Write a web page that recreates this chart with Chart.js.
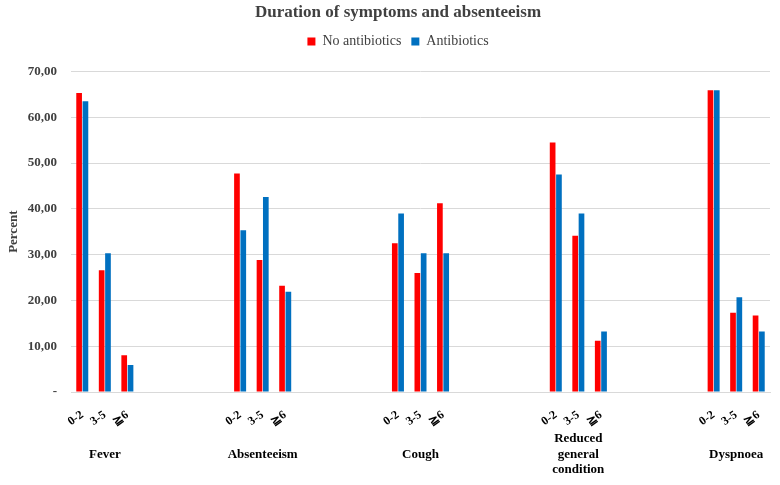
<!DOCTYPE html>
<html>
<head>
<meta charset="utf-8">
<script src="https://cdn.jsdelivr.net/npm/chart.js@4/dist/chart.umd.min.js"></script>
<style>
  html, body { margin: 0; padding: 0; background: #ffffff; }
  #wrap { width: 780px; height: 485px; }
</style>
</head>
<body>
<div id="wrap"><canvas id="c"></canvas></div>
<script>
// ---- data ----
const groups = ["Fever", "Absenteeism", "Cough", ["Reduced", "general", "condition"], "Dyspnoea"];
const durations = ["0-2", "3-5", "≧6"];
const noAntibiotics = [65.3, 26.6, 8.0,  47.7, 28.8, 23.2,  32.5, 26.0, 41.2,  54.5, 34.1, 11.2,  65.9, 17.3, 16.7];
const antibiotics   = [63.5, 30.3, 5.9,  35.3, 42.6, 21.9,  39.0, 30.3, 30.3,  47.5, 39.0, 13.2,  65.9, 20.7, 13.2];
const yTicks = [0, 10, 20, 30, 40, 50, 60, 70];
const gapSlots = 4;

// ---- build slot arrays (empty slots between groups) ----
const subLabels = [], groupLabels = [], redData = [], blueData = [];
groups.forEach((g, gi) => {
  if (gi > 0) {
    for (let k = 0; k < gapSlots; k++) { subLabels.push(""); groupLabels.push(""); redData.push(null); blueData.push(null); }
  }
  durations.forEach((d, di) => {
    subLabels.push(d);
    groupLabels.push(di === 1 ? g : "");
    redData.push(noAntibiotics[gi * durations.length + di]);
    blueData.push(antibiotics[gi * durations.length + di]);
  });
});

const SERIF = "'Liberation Serif', 'Times New Roman', serif";

const legendSpace = {
  id: 'legendSpace',
  beforeInit(chart) {
    const origFit = chart.legend.fit;
    chart.legend.fit = function () { origFit.call(this); this.height += 13; };
  }
};

new Chart(document.getElementById('c'), {
  type: 'bar',
  plugins: [legendSpace],
  data: {
    labels: subLabels,
    datasets: [
      { label: 'No antibiotics', data: redData, backgroundColor: '#FF0000', categoryPercentage: 0.56, barPercentage: 0.9 },
      { label: 'Antibiotics', data: blueData, backgroundColor: '#0070C0', categoryPercentage: 0.56, barPercentage: 0.9 }
    ]
  },
  options: {
    responsive: true,
    maintainAspectRatio: false,
    animation: false,
    layout: { padding: { left: 26, right: 10, top: 0, bottom: 0 } },
    plugins: {
      title: {
        display: true,
        text: 'Duration of symptoms and absenteeism',
        color: '#404040',
        font: { family: SERIF, size: 17, weight: 'bold' },
        padding: { top: 2, bottom: 2 }
      },
      legend: {
        display: true,
        labels: {
          color: '#404040',
          font: { family: SERIF, size: 14 },
          boxWidth: 8, boxHeight: 8, padding: 10
        }
      },
      tooltip: { enabled: false }
    },
    scales: {
      x: {
        type: 'category',
        offset: true,
        grid: { display: false },
        border: { display: true, color: '#d9d9d9' },
        afterFit: (a) => { a.height = 36; },
        ticks: {
          autoSkip: false, maxRotation: 35, minRotation: 35,
          color: '#000000', padding: 8,
          font: { family: SERIF, size: 12, weight: 'bold' }
        }
      },
      x2: {
        type: 'category',
        position: 'bottom',
        labels: groupLabels,
        offset: true,
        grid: { display: false, drawTicks: false },
        border: { display: false },
        afterFit: (a) => { a.height = 57; },
        ticks: {
          autoSkip: false, maxRotation: 0, minRotation: 0,
          crossAlign: 'center',
          color: '#000000', padding: 11,
          font: { family: SERIF, size: 13, weight: 'bold', lineHeight: 1.18 }
        }
      },
      y: {
        min: 0, max: 70,
        afterBuildTicks: (axis) => { axis.ticks = yTicks.map(v => ({ value: v })); },
        afterFit: (a) => { a.width = 45; },
        grid: { color: '#d9d9d9', drawTicks: false },
        border: { display: false },
        title: {
          display: true, text: 'Percent', color: '#404040',
          font: { family: SERIF, size: 13, weight: 'bold' }, padding: { top: -20, bottom: 0 }
        },
        ticks: {
          padding: 14, color: '#404040',
          font: { family: SERIF, size: 13, weight: 'bold' },
          callback: (v) => v === 0 ? '-' : v.toFixed(2).replace('.', ',')
        }
      }
    }
  }
});
</script>
</body>
</html>
